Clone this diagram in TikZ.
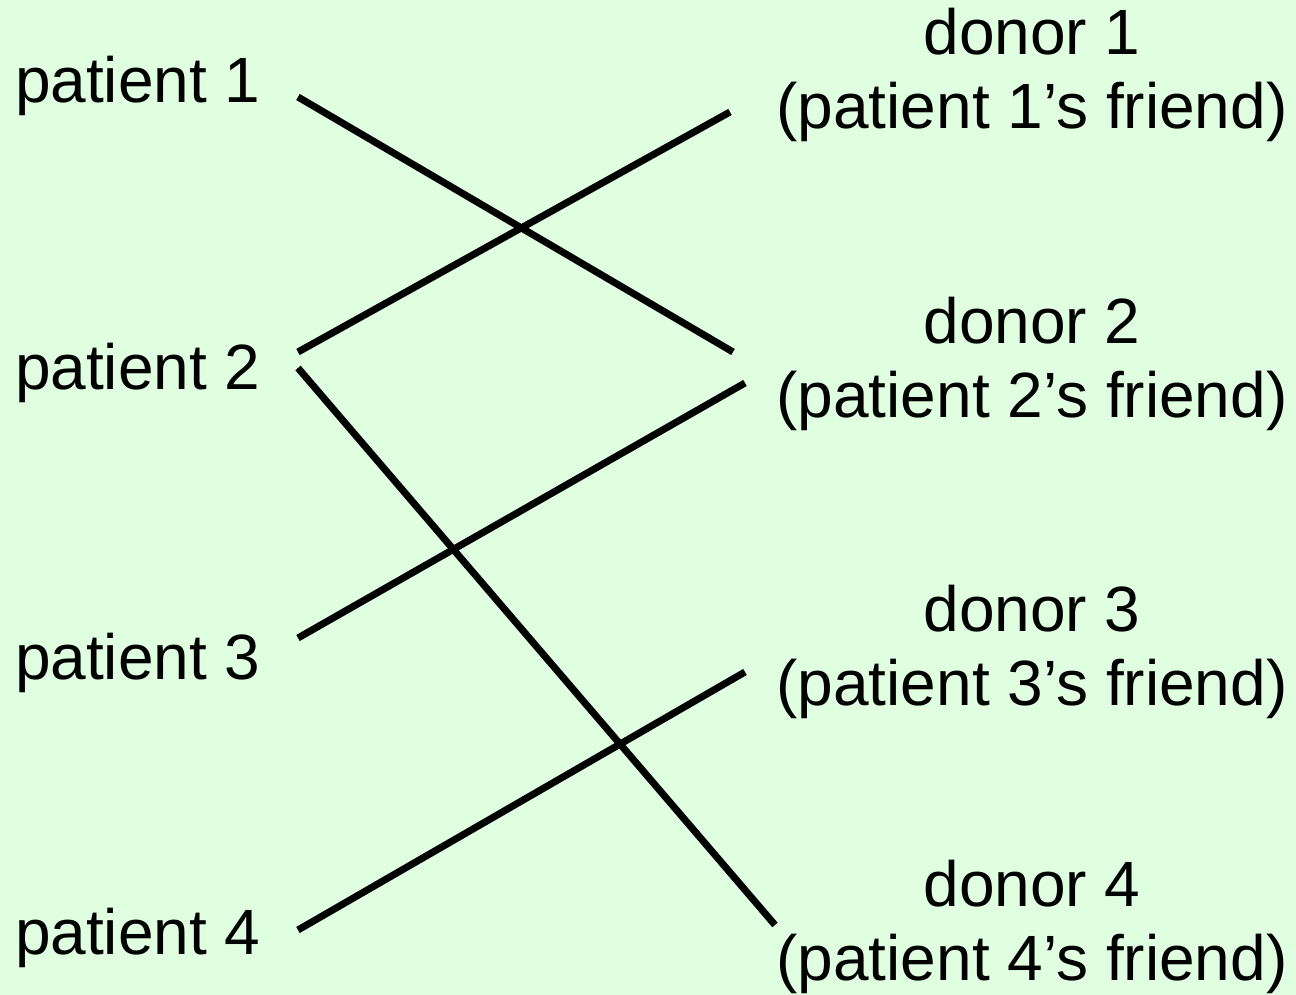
\documentclass[tikz,border=0pt]{standalone}
\usepackage{fontspec}
\setmainfont{Liberation Sans}
\definecolor{bgreen}{RGB}{224,255,224}
\begin{document}
\begin{tikzpicture}[x=0.01cm,y=-0.01cm,
  lbl/.style={inner sep=0pt,outer sep=0pt,font=\fontsize{18.2pt}{21.3pt}\selectfont},
  pat/.style={lbl,anchor=base west},
  don/.style={lbl,anchor=base,align=center},
  link/.style={line width=2pt,black}]
\fill[bgreen] (0,0) rectangle (1296,995);
\useasboundingbox (0,0) rectangle (1296,995);
\node[pat] (p1) at (15,103) {patient 1};
\node[pat] (p2) at (15,390) {patient 2};
\node[pat] (p3) at (15,680) {patient 3};
\node[pat] (p4) at (15,955) {patient 4};
\node[don] (d1) at (1032,129) {donor 1\\(patient 1’s friend)};
\node[don] (d2) at (1032,418) {donor 2\\(patient 2’s friend)};
\node[don] (d3) at (1032,706) {donor 3\\(patient 3’s friend)};
\node[don] (d4) at (1032,981) {donor 4\\(patient 4’s friend)};
\coordinate (p1r) at (298,97);
\coordinate (p2ra) at (298,352);
\coordinate (p2rb) at (298,368);
\coordinate (p3r) at (298,638);
\coordinate (p4r) at (298,930);
\coordinate (d1l) at (730,112);
\coordinate (d2la) at (733,352);
\coordinate (d2lb) at (745,383);
\coordinate (d3l) at (745,672);
\coordinate (d4l) at (775,925);
\draw[link] (p1r) -- (d2la);
\draw[link] (p2ra) -- (d1l);
\draw[link] (p2rb) -- (d4l);
\draw[link] (p3r) -- (d2lb);
\draw[link] (p4r) -- (d3l);
\end{tikzpicture}
\end{document}
